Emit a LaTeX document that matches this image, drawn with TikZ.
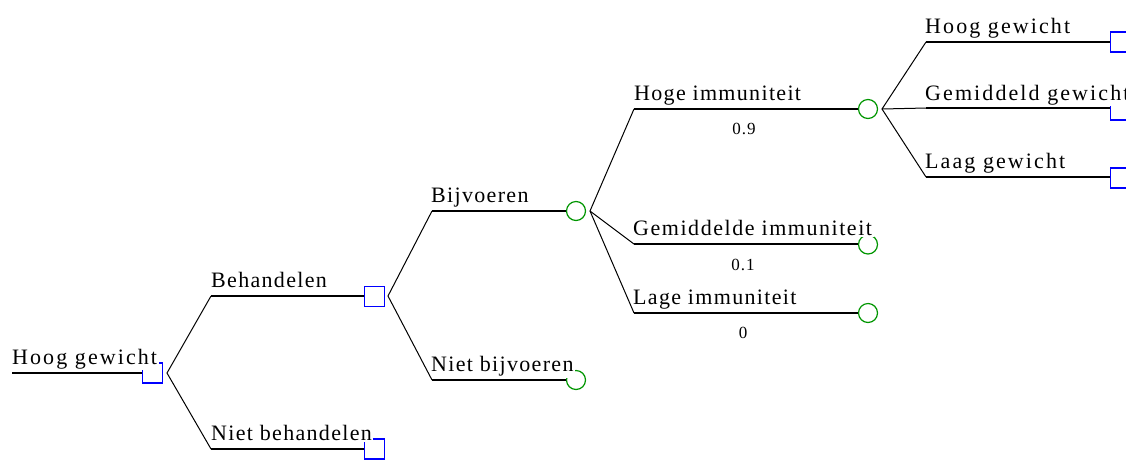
\documentclass[tikz,border=0pt]{standalone}
\usepackage{fontspec}
\setmainfont{Liberation Serif}[LetterSpace=6]
\definecolor{decblue}{RGB}{0,0,255}
\definecolor{chgreen}{RGB}{0,150,0}
\begin{document}
\begin{tikzpicture}[x=1pt,y=-1pt,
  decnode/.style={draw=decblue,line width=1.5pt,rectangle,minimum size=20pt,inner sep=0pt},
  chnode/.style={draw=chgreen,line width=1.2pt,circle,minimum size=19pt,inner sep=0pt},
  lbl/.style={anchor=base west,fill=white,inner sep=1.5pt,font=\fontsize{22}{24}\selectfont},
  lblwide/.style={lbl,font=\fontsize{22}{24}\selectfont\addfontfeature{LetterSpace=9.5}},
  lblmid/.style={lbl,font=\fontsize{22}{24}\selectfont\addfontfeature{LetterSpace=7}},
  prob/.style={font=\fontsize{17}{19}\selectfont,inner sep=0pt},
  hline/.style={draw=black,line width=1.6pt},
  dline/.style={draw=black,line width=1pt}]
\useasboundingbox (0,0) rectangle (1126,459);
\fill[white] (0,0) rectangle (1126,459);
\clip (0,0) rectangle (1126,459);
% decision / chance nodes
\node[decnode] (d1) at (152.5,373) {};
\node[decnode] (d2) at (374.5,296.5) {};
\node[decnode] (d3) at (374.5,449) {};
\node[chnode] (e1) at (576,211) {};
\node[chnode] (e2) at (576,380) {};
\node[chnode] (e3) at (868,109) {};
\node[chnode] (e4) at (868,244.5) {};
\node[chnode] (e5) at (868,313) {};
\node[decnode] (d4) at (1120.5,42) {};
\node[decnode] (d5) at (1120.5,110) {};
\node[decnode] (d6) at (1120.5,178) {};
% labels
\node[lblwide] (t0) at (10.5,364) {Hoog gewicht};
\node[lbl] (t1) at (209.5,287) {Behandelen};
\node[lbl] (t2) at (209.5,440) {Niet behandelen};
\node[lbl] (t3) at (429.5,202) {Bijvoeren};
\node[lbl] (t4) at (429.5,371.5) {Niet bijvoeren};
\node[lbl] (t5) at (632.5,100) {Hoge immuniteit};
\node[lblmid] (t6) at (631.5,235) {Gemiddelde immuniteit};
\node[lbl] (t7) at (631.5,304) {Lage immuniteit};
\node[lblwide] (t8) at (923.5,33) {Hoog gewicht};
\node[lblwide] (t9) at (923.5,100) {Gemiddeld gewicht};
\node[lblwide] (t10) at (923.5,168) {Laag gewicht};
\node[prob] (p1) at (744,129) {0.9};
\node[prob] (p2) at (743,265) {0.1};
\node[prob] (p3) at (743,333) {0};
% coordinates
\coordinate (r0) at (12,373);
\coordinate (j1) at (167,373);
\coordinate (c11) at (211,296);
\coordinate (c12) at (211,449);
\coordinate (j2) at (388,296);
\coordinate (c21) at (432,211);
\coordinate (c22) at (432,380);
\coordinate (j3) at (590,211);
\coordinate (c31) at (634,109);
\coordinate (c32) at (634,244);
\coordinate (c33) at (634,313);
\coordinate (j4) at (882,109);
\coordinate (c41) at (926,42);
\coordinate (c42) at (926,108);
\coordinate (c43) at (926,177);
% horizontal branches
\draw[hline] (r0) -- (d1.west |- r0);
\draw[hline] (c11) -- (d2.west |- c11);
\draw[hline] (c12) -- (d3.west |- c12);
\draw[hline] (c21) -- (e1.west |- c21);
\draw[hline] (c22) -- (e2.west |- c22);
\draw[hline] (c31) -- (e3.west |- c31);
\draw[hline] (c32) -- (e4.west |- c32);
\draw[hline] (c33) -- (e5.west |- c33);
\draw[hline] (c41) -- (d4.west |- c41);
\draw[hline] (c42) -- (d5.west |- c42);
\draw[hline] (c43) -- (d6.west |- c43);
% diagonal connectors
\draw[dline] (c11) -- (j1) -- (c12);
\draw[dline] (c21) -- (j2) -- (c22);
\draw[dline] (c31) -- (j3) -- (c33);
\draw[dline] (j3) -- (c32);
\draw[dline] (c41) -- (j4) -- (c43);
\draw[dline] (j4) -- (c42);
\end{tikzpicture}
\end{document}
